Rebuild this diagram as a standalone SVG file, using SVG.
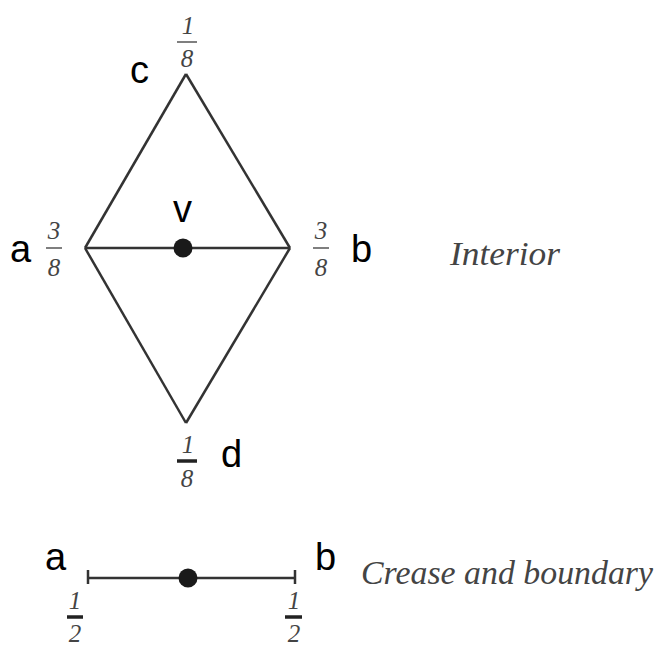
<svg xmlns="http://www.w3.org/2000/svg" width="658" height="648" viewBox="0 0 658 648">
<style>
.lbl{font-family:"Liberation Sans",Arial,sans-serif;font-size:38px;fill:#000}
.num{font-family:"Liberation Serif","Times New Roman",serif;font-style:italic;font-size:25px;fill:#444;text-anchor:middle}
.cap{font-family:"Liberation Serif","Times New Roman",serif;font-style:italic;font-size:34px;fill:#444}
.edge{stroke:#333;stroke-width:2.5;fill:none}
.bar{stroke:#555;stroke-width:1.5}
.bbar{stroke:#222;stroke-width:3.5}
.dot{fill:#1a1a1a}
</style>
<rect width="658" height="648" fill="#fff"/>
<g id="connectors">
<line class="edge" x1="186" y1="74" x2="85" y2="248"/>
<line class="edge" x1="186" y1="74" x2="290" y2="248"/>
<line class="edge" x1="85" y1="248" x2="186" y2="423"/>
<line class="edge" x1="290" y1="248" x2="186" y2="423"/>
<line class="edge" x1="85" y1="248" x2="290" y2="248" stroke="#555"/>
<line class="edge" x1="87" y1="578" x2="296" y2="578" stroke-width="2"/>
<line class="edge" x1="88" y1="570" x2="88" y2="584" stroke-width="2"/>
<line class="edge" x1="295" y1="570" x2="295" y2="584" stroke-width="2"/>
</g>
<g id="node-v">
<circle class="dot" cx="183" cy="248" r="9.5"/>
<text class="lbl" x="173" y="222">v</text>
</g>
<g id="node-c">
<text class="lbl" x="130" y="83">c</text>
<text class="num" x="188" y="34">1</text>
<line class="bar" x1="177" y1="42" x2="197" y2="42"/>
<text class="num" x="187" y="67">8</text>
</g>
<g id="node-a">
<text class="lbl" x="10" y="262">a</text>
<text class="num" x="54" y="239">3</text>
<line class="bar" x1="46" y1="248" x2="62" y2="248"/>
<text class="num" x="54" y="276">8</text>
</g>
<g id="node-b">
<text class="lbl" x="351" y="262">b</text>
<text class="num" x="321" y="239">3</text>
<line class="bar" x1="313" y1="248" x2="329" y2="248"/>
<text class="num" x="321" y="276">8</text>
</g>
<g id="node-d">
<text class="lbl" x="221" y="467">d</text>
<text class="num" x="188" y="453">1</text>
<line class="bbar" x1="177" y1="461" x2="197" y2="461"/>
<text class="num" x="187" y="487">8</text>
</g>
<g id="label-interior">
<text class="cap" x="450" y="265" textLength="110" lengthAdjust="spacingAndGlyphs">Interior</text>
</g>
<g id="node-a2">
<text class="lbl" x="45" y="570">a</text>
<text class="num" x="75" y="609">1</text>
<line class="bbar" x1="67" y1="617" x2="83" y2="617"/>
<text class="num" x="75" y="642">2</text>
</g>
<g id="node-mid">
<circle class="dot" cx="188" cy="578" r="9.5"/>
</g>
<g id="node-b2">
<text class="lbl" x="315" y="570">b</text>
<text class="num" x="294" y="609">1</text>
<line class="bbar" x1="285" y1="617" x2="302" y2="617"/>
<text class="num" x="294" y="642">2</text>
</g>
<g id="label-crease">
<text class="cap" x="361" y="584" textLength="292" lengthAdjust="spacingAndGlyphs">Crease and boundary</text>
</g>
</svg>
